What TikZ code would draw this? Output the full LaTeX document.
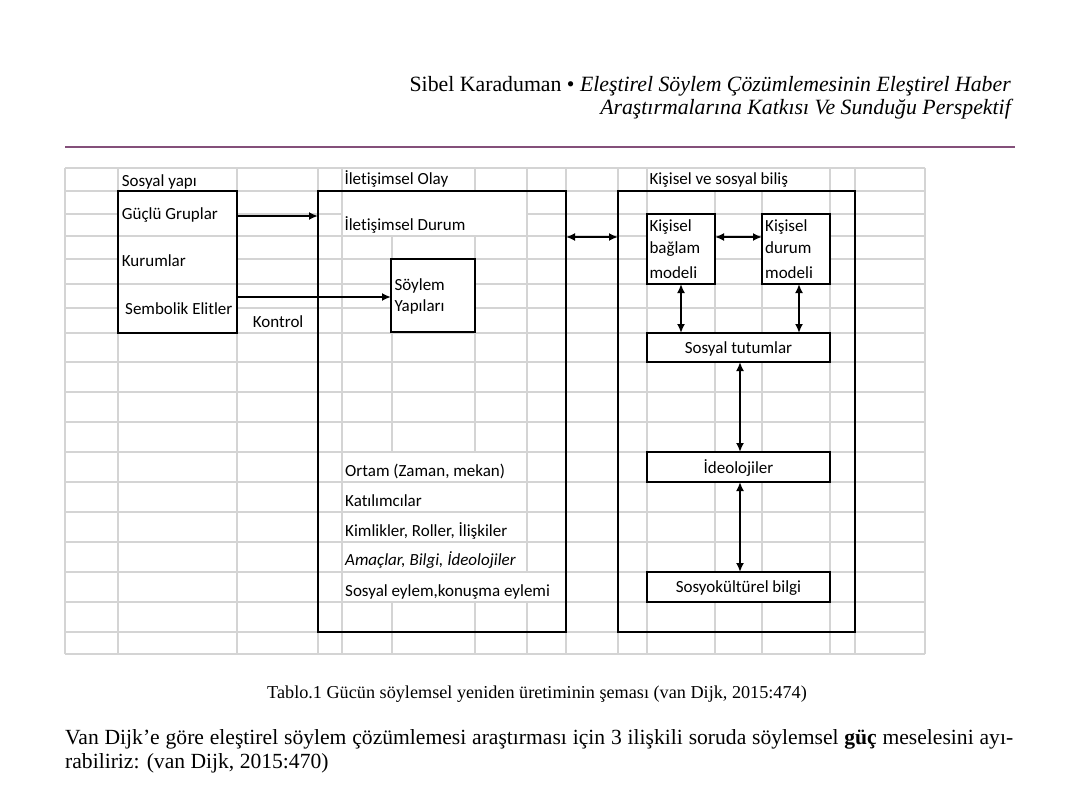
\documentclass[tikz,border=0pt]{standalone}
\usepackage{fontspec}
\setmainfont{Liberation Serif}
\newfontfamily\calfont{Carlito}[Ligatures=NoCommon]
\usetikzlibrary{arrows.meta}
\definecolor{gridgray}{HTML}{D4D4D4}
\definecolor{rulepurple}{HTML}{84507A}
\begin{document}
\begin{tikzpicture}[x=1pt,y=-1pt,
  gridline/.style={draw=gridgray,line width=1.3pt},
  hide/.style={fill=white,draw=none},
  bx/.style={draw=black,line width=2.4pt,inner sep=0pt,outer sep=0pt,rectangle},
  wbx/.style={bx,fill=white},
  lbl/.style={font=\calfont\fontsize{17}{20}\selectfont,inner sep=0pt,anchor=base west},
  clbl/.style={font=\calfont\fontsize{17}{20}\selectfont,inner sep=0pt,anchor=base},
  arr/.style={line width=2.4pt,-{Latex[length=9pt,width=8pt]}},
  darr/.style={line width=2.4pt,{Latex[length=9pt,width=8pt]}-{Latex[length=9pt,width=8pt]}}
]
\useasboundingbox (0,0) rectangle (1080,797);
\fill[white] (0,0) rectangle (1080,797);

% header
\node[anchor=base east,inner sep=0pt,font=\fontsize{21.8}{25}\selectfont] (hd1) at (1011,91.7)
  {Sibel Karaduman • \textit{Eleştirel Söylem Çözümlemesinin Eleştirel Haber}};
\node[anchor=base east,inner sep=0pt,font=\fontsize{21.8}{25}\selectfont\itshape] (hd2) at (1011,115)
  {Araştırmalarına Katkısı Ve Sunduğu Perspektif};
\draw[rulepurple,line width=2pt] (65,147.5) -- (1015,147.5);

% grid
\foreach \xx in {65,118,237,318,342,392,475,527,566,618,647,715,762,830,855,925}
  \draw[gridline] (\xx,168) -- (\xx,654);
\foreach \yy in {168,191,214,236,259,284,308,333,362,392,422,452,482,512,542,572,602,632,654}
  \draw[gridline] (65,\yy) -- (925,\yy);

% merged / overflow cells
\fill[hide] (118.7,191.7) rectangle (236.3,235.3);
\fill[hide] (118.7,236.7) rectangle (236.3,283.3);
\fill[hide] (118.7,284.7) rectangle (236.3,332.3);
\fill[hide] (342.7,168.7) rectangle (474.3,190.3);
\fill[hide] (342.7,191.7) rectangle (526.3,235.3);
\fill[hide] (647.7,168.7) rectangle (829.3,190.3);
\foreach \ya/\yb in {452/482,482/512,512/542,542/572}
  \fill[hide] (342.7,\ya+0.7) rectangle (526.3,\yb-0.7);
\fill[hide] (342.7,572.7) rectangle (565.3,601.3);

% boxes
\node[bx,minimum width=119pt,minimum height=142pt] (sosyal) at (177.5,262) {};
\node[bx,minimum width=248pt,minimum height=441pt] (olay) at (442,411.5) {};
\node[wbx,minimum width=84pt,minimum height=73pt] (soylem) at (433,295.5) {};
\node[bx,minimum width=237pt,minimum height=441pt] (bilis) at (736.5,411.5) {};
\node[wbx,minimum width=68pt,minimum height=70pt] (kb) at (681,249) {};
\node[wbx,minimum width=68pt,minimum height=70pt] (kd) at (796,249) {};
\node[wbx,minimum width=183pt,minimum height=29pt] (tut) at (738.5,347.5) {};
\node[wbx,minimum width=183pt,minimum height=30pt] (ideo) at (738.5,467) {};
\node[wbx,minimum width=183pt,minimum height=30pt] (sosyo) at (738.5,587) {};

% labels
\node[lbl] (tsy) at (121.7,186) {Sosyal yapı};
\node[lbl] (tgg) at (121.7,219.3) {Güçlü Gruplar};
\node[lbl] (tku) at (121.7,266.7) {Kurumlar};
\node[lbl] (tse) at (125,314.3) {Sembolik Elitler};
\node[lbl] (tko) at (252.7,327.7) {Kontrol};
\node[lbl] (tio) at (344.3,185) {İletişimsel Olay};
\node[lbl] (tid) at (344.3,231) {İletişimsel Durum};
\node[lbl] (tso1) at (394.3,290) {Söylem};
\node[lbl] (tso2) at (394.3,311.7) {Yapıları};
\node[lbl] (tks) at (649.3,185) {Kişisel ve sosyal biliş};
\node[lbl] (kb1) at (649.3,231.7) {Kişisel};
\node[lbl] (kb2) at (649.3,253.3) {bağlam};
\node[lbl] (kb3) at (649.3,278.3) {modeli};
\node[lbl] (kd1) at (765,231.7) {Kişisel};
\node[lbl] (kd2) at (765,253.3) {durum};
\node[lbl] (kd3) at (765,278.3) {modeli};
\node[clbl] (ttut) at (738.5,353.3) {Sosyal tutumlar};
\node[clbl] (tideo) at (738.5,473.3) {İdeolojiler};
\node[clbl] (tsosyo) at (738.5,592.7) {Sosyokültürel bilgi};
\node[lbl] (to1) at (345,476.7) {Ortam (Zaman, mekan)};
\node[lbl] (to2) at (345,506.7) {Katılımcılar};
\node[lbl] (to3) at (345,536.7) {Kimlikler, Roller, İlişkiler};
\node[lbl] (to4) at (345,565) {\itshape Amaçlar, Bilgi, İdeolojiler};
\node[lbl] (to5) at (345,596) {Sosyal eylem,konuşma eylemi};

% connectors
\draw[arr] (sosyal.east |- 0,216) -- (olay.west |- 0,216);
\draw[arr] (sosyal.east |- 0,297) -- (soylem.west |- 0,297);
\draw[darr] (olay.east |- 0,237) -- (bilis.west |- 0,237);
\draw[darr] (kb.east |- 0,237) -- (kd.west |- 0,237);
\draw[darr] (kb.south -| 681,0) -- (tut.north -| 681,0);
\draw[darr] (kd.south -| 799,0) -- (tut.north -| 799,0);
\draw[darr] (tut.south -| 740,0) -- (ideo.north -| 740,0);
\draw[darr] (ideo.south -| 740,0) -- (sosyo.north -| 740,0);

% caption and body
\node[anchor=base,inner sep=0pt,font=\fontsize{18.2}{22}\selectfont] (cap) at (537,698)
  {Tablo.1 Gücün söylemsel yeniden üretiminin şeması (van Dijk, 2015:474)};
\node[anchor=base west,inner sep=0pt,font=\fontsize{21.6}{25}\selectfont] (body1) at (65,744)
  {\makebox[948pt][s]{Van Dijk’e göre eleştirel söylem çözümlemesi araştırması için 3 ilişkili soruda söylemsel \textbf{güç} meselesini ayı-}};
\node[anchor=base west,inner sep=0pt,font=\fontsize{21.6}{25}\selectfont] (body2) at (65,768)
  {rabiliriz: (van Dijk, 2015:470)};
\end{tikzpicture}
\end{document}
